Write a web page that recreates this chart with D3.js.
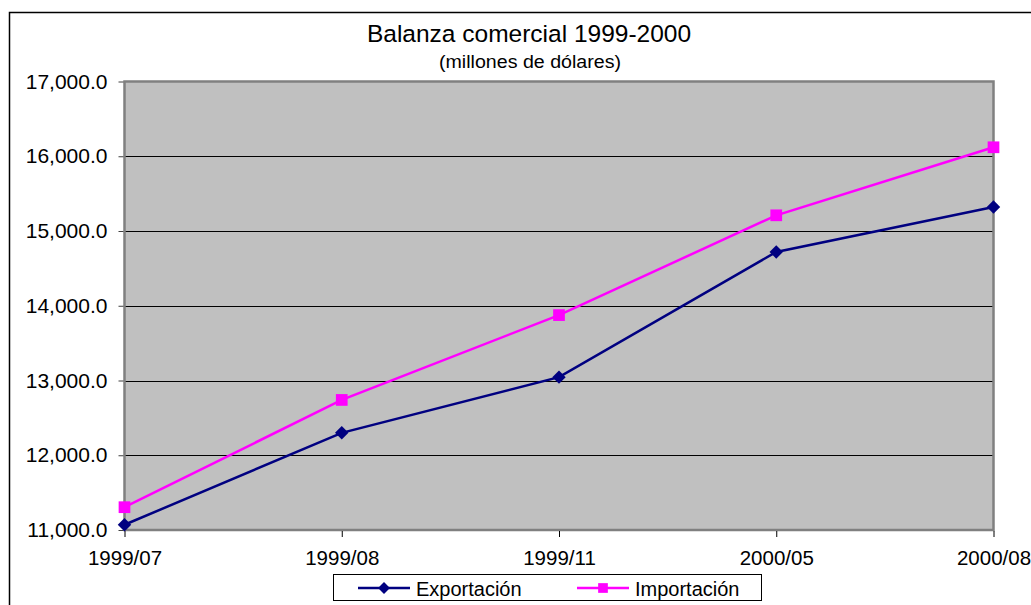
<!DOCTYPE html>
<html>
<head>
<meta charset="utf-8">
<script src="https://cdn.jsdelivr.net/npm/d3@7"></script>
<style>
	html, body { margin: 0; padding: 0; background: #fff; }
	svg { display: block; font-family: "Liberation Sans", Arial, sans-serif; }
</style>
</head>
<body>
<script>
// values
const categories = ["1999/07", "1999/08", "1999/11", "2000/05", "2000/08"];
const exportacion = [11070, 12300, 13045, 14720, 15320];
const importacion = [11305, 12740, 13875, 15210, 16120];
const yTicks = [11000, 12000, 13000, 14000, 15000, 16000, 17000];
const seriesNames = ["Exportación", "Importación"];

/*------------Size---------------*/
const W = 1031, H = 605;
const plot = { l: 124.5, r: 993.5, t: 81.5, b: 530 };
const navy = "#000080", pink = "#FF00FF";

const svg = d3.select("body").append("svg").attr("width", W).attr("height", H);

// outer chart frame (runs off the right/bottom of the picture)
svg.append("rect")
	.attr("x", 9.5).attr("y", 12.5)
	.attr("width", 1040).attr("height", 620)
	.attr("fill", "#fff").attr("stroke", "#000").attr("stroke-width", 1.5);

/*------------Scales---------------*/
const x = d3.scalePoint().domain(categories).range([plot.l, plot.r]);
const y = d3.scaleLinear().domain([11000, 17000]).range([plot.b, plot.t]);

// plot area
svg.append("rect")
	.attr("x", plot.l).attr("y", plot.t)
	.attr("width", plot.r - plot.l).attr("height", plot.b - plot.t)
	.attr("fill", "#C0C0C0");

// gridlines
svg.append("g")
	.selectAll("line")
	.data(yTicks.slice(1, -1))
	.enter()
	.append("line")
	.attr("x1", plot.l).attr("x2", plot.r)
	.attr("y1", (d) => Math.round(y(d)) + 0.5).attr("y2", (d) => Math.round(y(d)) + 0.5)
	.attr("stroke", "#000").attr("stroke-width", 1);

svg.append("rect")
	.attr("x", plot.l).attr("y", plot.t)
	.attr("width", plot.r - plot.l).attr("height", plot.b - plot.t)
	.attr("fill", "none").attr("stroke", "#808080").attr("stroke-width", 2.5);

/*------------Axes---------------*/
const fmt = d3.format(",.1f");
const yAxis = svg.append("g")
	.attr("transform", `translate(${plot.l - 1},0)`)
	.call(d3.axisLeft(y).tickValues(yTicks).tickFormat(fmt).tickSize(5).tickPadding(11));
yAxis.select(".domain").remove();
yAxis.selectAll(".tick line").attr("stroke", "#404040");
yAxis.selectAll("text")
	.attr("font-size", 21).attr("fill", "#000")
	.attr("font-family", "Liberation Sans, Arial, sans-serif");

const xAxis = svg.append("g")
	.attr("transform", `translate(0,${plot.b + 1})`)
	.call(d3.axisBottom(x).tickSize(6).tickPadding(13));
xAxis.select(".domain").remove();
xAxis.selectAll(".tick line").attr("stroke", "#000");
xAxis.selectAll("text")
	.attr("font-size", 20.5).attr("fill", "#000")
	.attr("font-family", "Liberation Sans, Arial, sans-serif");

/*------------Series---------------*/
const line = d3.line().x((d, i) => x(categories[i])).y((d) => y(d));
const diamond = d3.symbol().type(d3.symbolDiamond2).size(115);
const square = d3.symbol().type(d3.symbolSquare2).size(175);
const lgDiamond = d3.symbol().type(d3.symbolDiamond2).size(90);
const lgSquare = d3.symbol().type(d3.symbolSquare2).size(120);

const drawSeries = (vals, clr, sym) => {
	svg.append("path")
		.datum(vals)
		.attr("d", line)
		.attr("fill", "none")
		.attr("stroke", clr)
		.attr("stroke-width", 2.5);
	svg.append("g")
		.selectAll("path")
		.data(vals)
		.enter()
		.append("path")
		.attr("d", sym)
		.attr("transform", (d, i) => `translate(${x(categories[i])},${y(d)})`)
		.attr("fill", clr);
};
drawSeries(exportacion, navy, diamond);
drawSeries(importacion, pink, square);

/*------------Title---------------*/
svg.append("text")
	.attr("x", 529).attr("y", 42)
	.attr("text-anchor", "middle")
	.attr("font-size", 24.5)
	.text("Balanza comercial 1999-2000");
svg.append("text")
	.attr("x", 530).attr("y", 68)
	.attr("text-anchor", "middle")
	.attr("font-size", 17.5)
	.attr("textLength", 182)
	.attr("lengthAdjust", "spacingAndGlyphs")
	.text("(millones de dólares)");

/*------------Legend---------------*/
const legend = svg.append("g").attr("id", "legend");
legend.append("rect")
	.attr("x", 333.5).attr("y", 574.5)
	.attr("width", 428).attr("height", 26)
	.attr("fill", "#fff").attr("stroke", "#000").attr("stroke-width", 1);

const lgItems = [
	{ name: seriesNames[0], clr: navy, sym: lgDiamond, x: 358 },
	{ name: seriesNames[1], clr: pink, sym: lgSquare, x: 577 }
];
lgItems.forEach((it) => {
	legend.append("line")
		.attr("x1", it.x).attr("x2", it.x + 52)
		.attr("y1", 588).attr("y2", 588)
		.attr("stroke", it.clr).attr("stroke-width", 2.5);
	legend.append("path")
		.attr("d", it.sym)
		.attr("transform", `translate(${it.x + 26},588)`)
		.attr("fill", it.clr);
	legend.append("text")
		.attr("x", it.x + 58).attr("y", 595.5)
		.attr("font-size", 20)
		.text(it.name);
});
</script>
</body>
</html>
